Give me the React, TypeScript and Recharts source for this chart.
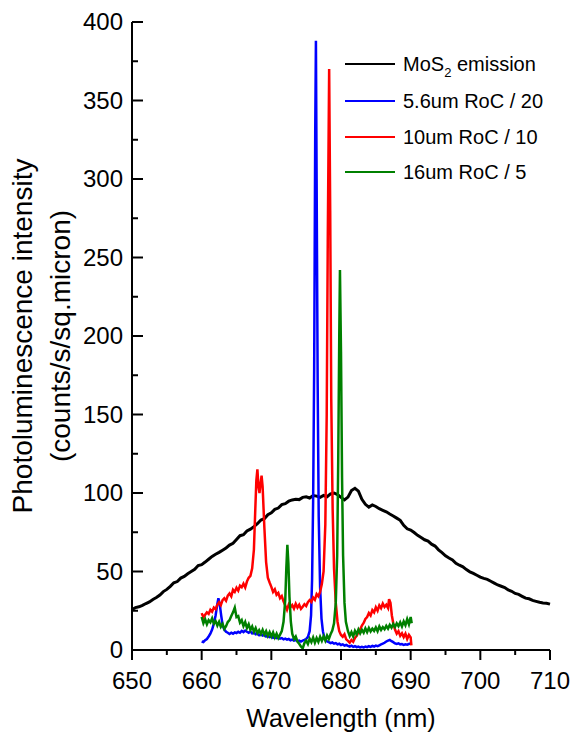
import React from "react";
import { LineChart, Line, XAxis, YAxis, Legend } from "recharts";

// axis ticks
const xTicks = [650, 655, 660, 665, 670, 675, 680, 685, 690, 695, 700, 705, 710];
const yTicks = [0, 25, 50, 75, 100, 125, 150, 175, 200, 225, 250, 275, 300, 325, 350, 375, 400];

// [wavelength nm, intensity]
const mos2Emission: [number, number][] = [
  [650, 25.8], [650.5, 27.0], [651, 27.5], [651.5, 28.4], [652, 29.6], [652.5, 30.6], [653, 32.2], [653.5, 33.4],
  [654, 35.0], [654.5, 37.2], [655, 38.6], [655.5, 40.5], [656, 42.8], [656.5, 43.6], [657, 45.8], [657.5, 46.9],
  [658, 48.6], [658.5, 50.0], [659, 51.4], [659.5, 53.8], [660, 54.4], [660.5, 56.0], [661, 57.8], [661.5, 59.6],
  [662, 61.0], [662.5, 62.2], [663, 63.6], [663.5, 65.0], [664, 66.8], [664.5, 68.0], [665, 70.4], [665.5, 72.8],
  [666, 73.4], [666.5, 75.8], [667, 77.0], [667.5, 78.6], [668, 80.4], [668.5, 82.8], [669, 83.6], [669.5, 86.2],
  [670, 87.4], [670.5, 89.6], [671, 90.4], [671.5, 92.6], [672, 93.2], [672.5, 94.8], [673, 95.6], [673.5, 96.0],
  [674, 95.8], [674.5, 97.2], [675, 97.6], [675.5, 96.8], [676, 98.4], [676.5, 98.0], [677, 97.2], [677.5, 98.4],
  [678, 97.6], [678.5, 99.4], [679, 100.0], [679.5, 99.0], [680, 97.2], [680.5, 95.6], [681, 97.4], [681.5, 101.6],
  [682, 103.0], [682.5, 101.2], [683, 96.0], [683.5, 92.8], [684, 91.0], [684.5, 92.4], [685, 91.4], [685.5, 90.0],
  [686, 89.0], [686.5, 88.0], [687, 86.6], [687.5, 85.4], [688, 84.0], [688.5, 82.6], [689, 79.4], [689.5, 77.2],
  [690, 76.4], [690.5, 74.8], [691, 73.0], [691.5, 71.6], [692, 70.2], [692.5, 69.4], [693, 67.4], [693.5, 66.2],
  [694, 63.8], [694.5, 62.0], [695, 60.0], [695.5, 58.6], [696, 57.4], [696.5, 55.2], [697, 54.0], [697.5, 53.0],
  [698, 51.2], [698.5, 49.8], [699, 48.8], [699.5, 47.6], [700, 46.4], [700.5, 45.6], [701, 45.0], [701.5, 43.8],
  [702, 42.6], [702.5, 41.4], [703, 40.6], [703.5, 39.8], [704, 38.2], [704.5, 37.4], [705, 36.0], [705.5, 35.4],
  [706, 34.2], [706.5, 33.0], [707, 32.6], [707.5, 31.6], [708, 31.0], [708.5, 30.4], [709, 30.0], [709.5, 29.8],
  [710, 29.2],
];

const roc56: [number, number][] = [
  [660, 5.4], [660.25, 5.0], [660.5, 6.2], [660.75, 7.0], [661, 8.6], [661.25, 10.4], [661.5, 13.0], [661.75, 16.8],
  [662, 22.0], [662.2, 28.0], [662.4, 33.0], [662.6, 29.0], [662.8, 22.0], [663, 16.0], [663.25, 13.0], [663.5, 11.6],
  [663.75, 11.0], [664, 10.2], [664.25, 11.0], [664.5, 10.4], [664.75, 11.2], [665, 10.8], [665.25, 11.6], [665.5, 11.0],
  [665.75, 12.2], [666, 11.4], [666.25, 12.4], [666.5, 11.6], [666.75, 11.0], [667, 11.8], [667.25, 10.6], [667.5, 11.2],
  [667.75, 10.0], [668, 10.4], [668.25, 9.4], [668.5, 10.0], [668.75, 9.2], [669, 9.6], [669.25, 8.6], [669.5, 9.0],
  [669.75, 8.2], [670, 8.6], [670.25, 7.8], [670.5, 8.2], [670.75, 7.6], [671, 8.0], [671.25, 7.2], [671.5, 7.6],
  [671.75, 6.8], [672, 7.2], [672.25, 6.6], [672.5, 7.0], [672.75, 6.2], [673, 6.6], [673.25, 6.0], [673.5, 6.4],
  [673.75, 5.6], [674, 6.0], [674.25, 5.4], [674.5, 6.0], [674.75, 6.4], [675, 7.0], [675.25, 8.4], [675.5, 12.0],
  [675.7, 22], [675.85, 45], [676, 95], [676.15, 180], [676.3, 330], [676.4, 388], [676.5, 300], [676.65, 170],
  [676.8, 85], [677, 40], [677.2, 20], [677.4, 12], [677.6, 8.0], [677.8, 6.2], [678, 5.4], [678.25, 5.0],
  [678.5, 4.4], [678.75, 4.8], [679, 4.0], [679.25, 4.4], [679.5, 3.6], [679.75, 4.0], [680, 3.2], [680.25, 3.6],
  [680.5, 2.8], [680.75, 3.2], [681, 2.6], [681.25, 2.2], [681.5, 2.8], [681.75, 2.0], [682, 2.4], [682.25, 1.8],
  [682.5, 2.2], [682.75, 1.6], [683, 2.0], [683.25, 1.6], [683.5, 2.2], [683.75, 1.8], [684, 2.4], [684.25, 2.0],
  [684.5, 2.6], [684.75, 2.2], [685, 2.8], [685.25, 2.4], [685.5, 3.0], [685.75, 3.6], [686, 4.0], [686.25, 4.6],
  [686.5, 5.4], [686.75, 6.0], [687, 6.4], [687.25, 5.6], [687.5, 5.0], [687.75, 4.2], [688, 3.8], [688.25, 4.2],
  [688.5, 3.6], [688.75, 3.8], [689, 3.2], [689.25, 3.6], [689.5, 3.4], [689.75, 3.8], [690, 4.2],
];

const roc10: [number, number][] = [
  [660, 23.5], [660.25, 20.8], [660.5, 22.4], [660.75, 24.0], [661, 23.0], [661.25, 25.6], [661.5, 24.4], [661.75, 27.0],
  [662, 26.0], [662.25, 28.8], [662.5, 30.4], [662.75, 28.6], [663, 31.8], [663.25, 33.0], [663.5, 31.4], [663.75, 34.6],
  [664, 36.0], [664.25, 34.2], [664.5, 38.4], [664.75, 37.0], [665, 39.6], [665.25, 37.8], [665.5, 41.0], [665.75, 40.0],
  [666, 42.2], [666.25, 39.8], [666.5, 43.6], [666.75, 46.0], [667, 47.2], [667.25, 52.0], [667.5, 64.0], [667.7, 90],
  [667.85, 108], [668, 115], [668.15, 104], [668.3, 100], [668.45, 106], [668.6, 111], [668.75, 104], [669, 78],
  [669.25, 56], [669.5, 46], [669.75, 43.0], [670, 40.2], [670.25, 37.0], [670.5, 38.6], [670.75, 35.2], [671, 36.4],
  [671.25, 33.0], [671.5, 34.4], [671.75, 31.0], [672, 28.4], [672.25, 25.6], [672.5, 29.0], [672.75, 27.2], [673, 28.6],
  [673.25, 26.4], [673.5, 29.4], [673.75, 27.0], [674, 28.8], [674.25, 26.2], [674.5, 27.6], [674.75, 29.2], [675, 28.0],
  [675.25, 30.4], [675.5, 31.8], [675.75, 30.6], [676, 33.4], [676.25, 32.0], [676.5, 35.6], [676.75, 34.2], [677, 37.0],
  [677.25, 42.0], [677.5, 50.0], [677.75, 80], [677.95, 150], [678.1, 260], [678.3, 370], [678.45, 280], [678.6, 160],
  [678.8, 90], [679, 52], [679.25, 30], [679.5, 18], [679.75, 12], [680, 9.6], [680.25, 8.4], [680.5, 10.0],
  [680.75, 6.8], [681, 5.8], [681.25, 4.6], [681.5, 6.4], [681.75, 5.2], [682, 7.6], [682.25, 9.0], [682.5, 11.4],
  [682.75, 13.0], [683, 15.6], [683.25, 17.2], [683.5, 19.8], [683.75, 21.0], [684, 23.6], [684.25, 22.0], [684.5, 25.4],
  [684.75, 24.0], [685, 27.2], [685.25, 25.0], [685.5, 28.4], [685.75, 26.6], [686, 29.6], [686.25, 27.4], [686.5, 28.8],
  [686.75, 26.8], [686.9, 32.4], [687.1, 30.0], [687.3, 22], [687.5, 17.0], [687.75, 13.0], [688, 10.4], [688.25, 12.0],
  [688.5, 9.0], [688.75, 10.6], [689, 8.2], [689.25, 10.4], [689.5, 7.0], [689.75, 9.6], [690, 8.0], [690.1, 3.0],
];

const roc16: [number, number][] = [
  [660, 21.0], [660.25, 17.0], [660.5, 19.6], [660.75, 16.4], [661, 19.0], [661.25, 17.6], [661.5, 20.2], [661.75, 16.8],
  [662, 18.4], [662.25, 15.6], [662.5, 18.0], [662.75, 14.8], [663, 16.6], [663.25, 13.4], [663.5, 15.2], [663.75, 17.8],
  [664, 19.0], [664.25, 21.6], [664.5, 24.0], [664.75, 27.0], [665, 21.0], [665.25, 21.6], [665.5, 17.4], [665.75, 19.0],
  [666, 15.2], [666.25, 17.8], [666.5, 14.0], [666.75, 16.4], [667, 12.8], [667.25, 15.0], [667.5, 11.6], [667.75, 14.0],
  [668, 10.8], [668.25, 12.6], [668.5, 10.2], [668.75, 12.8], [669, 9.8], [669.25, 12.0], [669.5, 9.0], [669.75, 11.4],
  [670, 8.6], [670.25, 11.2], [670.5, 8.0], [670.75, 10.4], [671, 7.6], [671.25, 9.8], [671.5, 12.0], [671.75, 18.0],
  [672, 32], [672.15, 52], [672.3, 67], [672.45, 55], [672.6, 34], [672.8, 18], [673, 10.4], [673.25, 7.0],
  [673.5, 8.6], [673.75, 5.4], [674, 4.0], [674.25, 2.2], [674.5, 1.0], [674.75, 4.4], [675, 6.0], [675.25, 3.8],
  [675.5, 7.2], [675.75, 5.0], [676, 8.0], [676.25, 4.6], [676.5, 7.6], [676.75, 5.2], [677, 8.4], [677.25, 5.8],
  [677.5, 8.8], [677.75, 6.0], [678, 9.2], [678.25, 7.0], [678.5, 10.0], [678.75, 12.4], [679, 17.0], [679.25, 30],
  [679.45, 60], [679.6, 120], [679.75, 200], [679.85, 242], [680, 190], [680.15, 110], [680.3, 60], [680.5, 30],
  [680.7, 18], [681, 12.0], [681.25, 9.0], [681.5, 11.4], [681.75, 8.6], [682, 12.2], [682.25, 10.0], [682.5, 13.0],
  [682.75, 10.6], [683, 12.8], [683.25, 11.0], [683.5, 13.8], [683.75, 11.4], [684, 14.0], [684.25, 11.8], [684.5, 13.6],
  [684.75, 12.2], [685, 14.4], [685.25, 12.0], [685.5, 15.0], [685.75, 12.8], [686, 14.6], [686.25, 13.2], [686.5, 15.4],
  [686.75, 13.6], [687, 16.0], [687.25, 14.2], [687.5, 16.6], [687.75, 14.6], [688, 17.0], [688.25, 15.2], [688.5, 17.6],
  [688.75, 15.0], [689, 18.2], [689.25, 15.8], [689.5, 19.6], [689.75, 16.4], [690, 21.0], [690.15, 17.0],
];

const series = [
  { key: "mos2", label: <>MoS<span style={{ fontSize: 13, position: "relative", top: 6 }}>2</span> emission</>, points: mos2Emission, color: "#000000", width: 3 },
  { key: "r56", label: <>5.6um RoC / 20</>, points: roc56, color: "#0000ff", width: 2.5 },
  { key: "r10", label: <>10um RoC / 10</>, points: roc10, color: "#ff0000", width: 2.5 },
  { key: "r16", label: <>16um RoC / 5</>, points: roc16, color: "#008000", width: 2.5 },
];

const FONT = "'Liberation Sans', Arial, sans-serif";

function BottomTick(props: any) {
  const { x, y, payload } = props;
  const major = payload.value % 10 === 0;
  return (
    <g>
      <line x1={x} y1={y} x2={x} y2={y + (major ? 10 : 5)} stroke="#000" strokeWidth={2} />
      {major && (
        <text x={x} y={y + 31} dy="0.35em" textAnchor="middle" fontSize={24} fill="#000">
          {payload.value}
        </text>
      )}
    </g>
  );
}

function TopTick(props: any) {
  const { x, y, payload } = props;
  const major = payload.value % 10 === 0;
  return <line x1={x} y1={y} x2={x} y2={y + (major ? 11 : 6)} stroke="#000" strokeWidth={2} />;
}

function LeftTick(props: any) {
  const { x, y, payload } = props;
  const major = payload.value % 50 === 0;
  return (
    <g>
      <line x1={x} y1={y} x2={x + (major ? 11 : 6)} y2={y} stroke="#000" strokeWidth={2} />
      {major && (
        <text x={x - 9} y={y} dy="0.35em" textAnchor="end" fontSize={24} fill="#000">
          {payload.value}
        </text>
      )}
    </g>
  );
}

function RightTick(props: any) {
  const { x, y, payload } = props;
  const major = payload.value % 50 === 0;
  return <line x1={x} y1={y} x2={x - (major ? 11 : 6)} y2={y} stroke="#000" strokeWidth={2} />;
}

function XTitle() {
  return (
    <text x={341} y={727} textAnchor="middle" fontSize={25} fill="#000">
      Wavelength (nm)
    </text>
  );
}

function YTitle() {
  return (
    <g>
      <text x={32} y={336} transform="rotate(-90 32 336)" textAnchor="middle" fontSize={28} fill="#000">
        Photoluminescence intensity
      </text>
      <text x={70} y={336} transform="rotate(-90 70 336)" textAnchor="middle" fontSize={28} fill="#000">
        (counts/s/sq.micron)
      </text>
    </g>
  );
}

const rowHeights = [39, 36, 35, 36];

function LegendBox() {
  return (
    <div style={{ fontFamily: FONT, fontSize: 20, color: "#000" }}>
      {series.map((s, i) => (
        <div key={s.key} style={{ display: "flex", alignItems: "center", height: rowHeights[i] }}>
          <span style={{ display: "inline-block", width: 50, height: 2, background: s.color, marginRight: 8 }} />
          <span style={{ lineHeight: 1, whiteSpace: "nowrap" }}>{s.label}</span>
        </div>
      ))}
    </div>
  );
}

export default function App() {
  const axisLine = { stroke: "#000", strokeWidth: 2 };
  return (
    <div style={{ position: "absolute", left: 0, top: 0, width: 572, height: 734, background: "#fff" }}>
      <LineChart width={572} height={734} margin={{ top: 22, right: 22, left: 0, bottom: 0 }} style={{ fontFamily: FONT }}>
        <XAxis
          xAxisId="b"
          type="number"
          dataKey="nm"
          domain={[650, 710]}
          ticks={xTicks}
          interval={0}
          height={84}
          tickSize={0}
          tickMargin={0}
          tickLine={false}
          axisLine={axisLine}
          tick={(p: any) => <BottomTick {...p} />}
          label={<XTitle />}
        />
        <XAxis
          xAxisId="t"
          orientation="top"
          type="number"
          dataKey="nm"
          domain={[650, 710]}
          ticks={xTicks}
          interval={0}
          height={0}
          tickSize={0}
          tickMargin={0}
          tickLine={false}
          axisLine={axisLine}
          tick={(p: any) => <TopTick {...p} />}
        />
        <YAxis
          yAxisId="l"
          type="number"
          domain={[0, 400]}
          ticks={yTicks}
          interval={0}
          width={132}
          tickSize={0}
          tickMargin={0}
          tickLine={false}
          axisLine={axisLine}
          tick={(p: any) => <LeftTick {...p} />}
          label={<YTitle />}
        />
        <YAxis
          yAxisId="r"
          orientation="right"
          type="number"
          domain={[0, 400]}
          ticks={yTicks}
          interval={0}
          width={0}
          tickSize={0}
          tickMargin={0}
          tickLine={false}
          axisLine={axisLine}
          tick={(p: any) => <RightTick {...p} />}
        />
        {series.map((s) => (
          <Line
            key={s.key}
            xAxisId="b"
            yAxisId="l"
            data={s.points.map(([nm, v]) => ({ nm, v }))}
            dataKey="v"
            type="linear"
            stroke={s.color}
            strokeWidth={s.width}
            dot={false}
            activeDot={false}
            isAnimationActive={false}
          />
        ))}
        <Legend
          layout="horizontal"
          verticalAlign="middle"
          align="center"
          content={() => <LegendBox />}
          wrapperStyle={{ left: 345, top: 44, width: 220, height: 150 }}
        />
      </LineChart>
    </div>
  );
}
